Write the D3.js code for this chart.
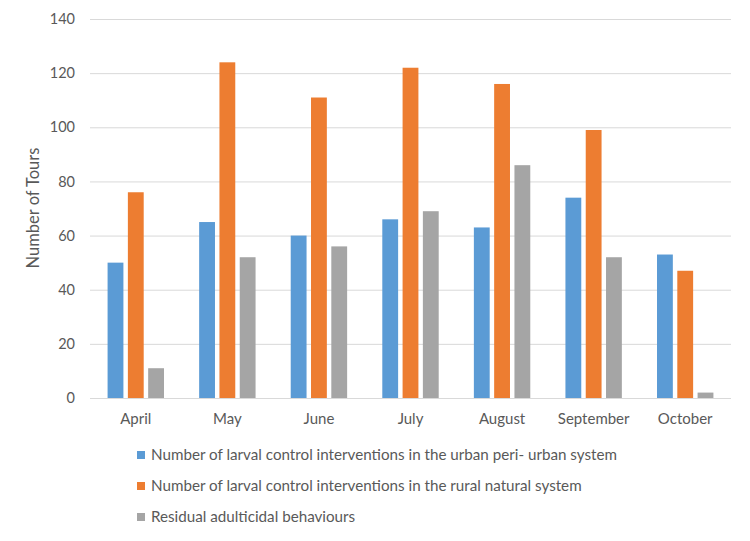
<!DOCTYPE html>
<html>
<head>
<meta charset="utf-8">
<script src="https://cdn.jsdelivr.net/npm/d3@7"></script>
<style>
  body { margin: 0; background: #fff; }
  text { font-family: Lato, "Open Sans", sans-serif; fill: #595959; }
</style>
</head>
<body>
<svg id="chart" width="750" height="541"></svg>
<script>
var months = ["April", "May", "June", "July", "August", "September", "October"];
var urban = [50, 65, 60, 66, 63, 74, 53];
var rural = [76, 124, 111, 122, 116, 99, 47];
var residual = [11, 52, 56, 69, 86, 52, 2];
var seriesNames = [
    "Number of larval control interventions in the urban peri- urban system",
    "Number of larval control interventions in the rural natural system",
    "Residual adulticidal behaviours"
];
var colors = ["#5B9BD5", "#ED7D31", "#A5A5A5"];
var yTicks = [0, 20, 40, 60, 80, 100, 120, 140];

var svg = d3.select("#chart");
var plotLeft = 90, plotRight = 731, plotTop = 19, plotBottom = 398;

var x0 = d3.scaleBand().domain(months).range([plotLeft, plotRight])
    .paddingInner(0.384).paddingOuter(0.192);
var x1 = d3.scaleBand().domain([0, 1, 2]).range([0, x0.bandwidth()]).paddingInner(0.22);
var y = d3.scaleLinear().domain([0, 140]).range([plotBottom, plotTop]);

// gridlines
svg.append("g").selectAll("line")
    .data(yTicks)
    .enter().append("line")
    .attr("x1", plotLeft).attr("x2", plotRight)
    .attr("y1", function(d) { return y(d) + 0.5; })
    .attr("y2", function(d) { return y(d) + 0.5; })
    .attr("stroke", "#d9d9d9").attr("stroke-width", 1);

// y axis labels
var yAxis = d3.axisLeft(y).tickValues(yTicks).tickSize(0).tickPadding(0);
var yg = svg.append("g").attr("transform", "translate(75,0)").call(yAxis);
yg.select(".domain").remove();
yg.selectAll("text").style("font-size", "14.5px").style("font-family", "Lato, sans-serif").attr("fill", "#595959");

// x axis labels
var xAxis = d3.axisBottom(x0).tickSize(0).tickPadding(0);
var xg = svg.append("g").attr("transform", "translate(0,413)").call(xAxis);
xg.select(".domain").remove();
xg.selectAll("text").style("font-size", "15px").style("font-family", "Lato, sans-serif").attr("fill", "#595959");

// bars
var data = months.map(function(m, i) { return {month: m, vals: [urban[i], rural[i], residual[i]]}; });
var groups = svg.append("g").selectAll("g")
    .data(data)
    .enter().append("g")
    .attr("transform", function(d) { return "translate(" + x0(d.month) + ",0)"; });
groups.selectAll("rect")
    .data(function(d) { return d.vals; })
    .enter().append("rect")
    .attr("x", function(d, i) { return x1(i); })
    .attr("width", x1.bandwidth())
    .attr("y", function(d) { return y(d); })
    .attr("height", function(d) { return y(0) - y(d); })
    .attr("fill", function(d, i) { return colors[i]; });

// y title
svg.append("text")
    .attr("transform", "translate(39,208) rotate(-90)")
    .attr("text-anchor", "middle")
    .style("font-size", "16.5px")
    .text("Number of Tours");

// legend
var legend = svg.append("g").selectAll("g")
    .data(seriesNames)
    .enter().append("g")
    .attr("transform", function(d, i) { return "translate(137," + (455 + i * 31) + ")"; });
legend.append("rect")
    .attr("x", 0).attr("y", -4).attr("width", 8).attr("height", 8)
    .attr("fill", function(d, i) { return colors[i]; });
legend.append("text")
    .attr("x", 14).attr("dy", "0.35em")
    .style("font-size", "15.2px")
    .attr("fill", "#404040")
    .text(function(d) { return d; });
</script>
</body>
</html>
